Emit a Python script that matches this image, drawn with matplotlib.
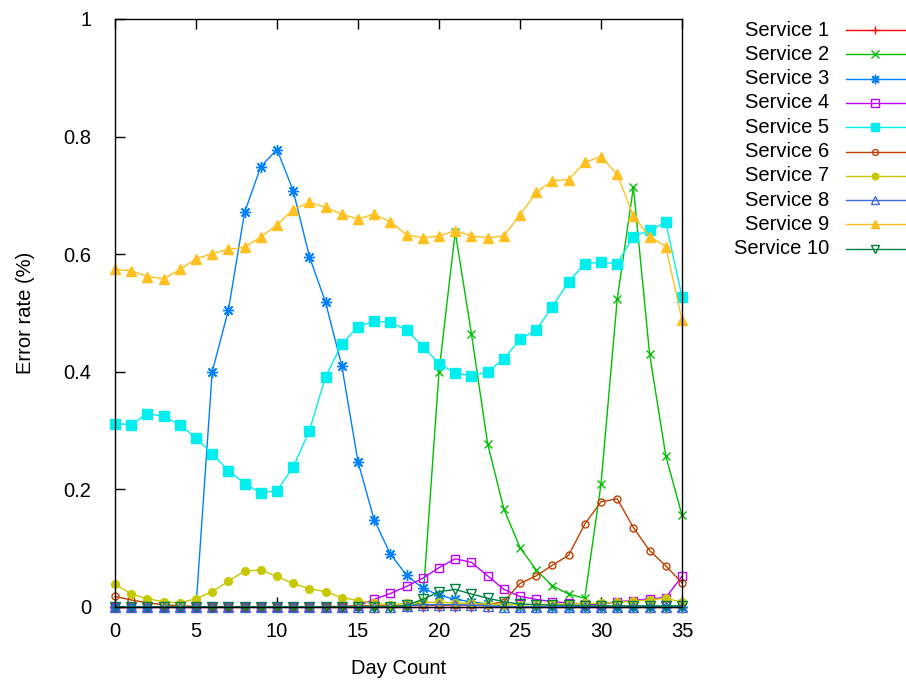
import matplotlib
matplotlib.use("Agg")
import matplotlib.pyplot as plt
from matplotlib.lines import Line2D

plt.rcParams['font.family'] = ['Liberation Sans', 'DejaVu Sans']

days = list(range(36))
names = ["Service %d" % i for i in range(1, 11)]

s1 = [0] * 36
s2 = [0] * 19 + [0.008, 0.400, 0.638, 0.465, 0.278, 0.167, 0.101, 0.063, 0.036, 0.022,
                 0.015, 0.209, 0.523, 0.714, 0.430, 0.257, 0.156]
s3 = [0] * 6 + [0.400, 0.505, 0.671, 0.749, 0.778, 0.708, 0.596, 0.518, 0.410, 0.247,
                0.148, 0.090, 0.054, 0.032, 0.020, 0.013, 0.009, 0.005, 0.002] + [0] * 11
s4 = [0] * 15 + [0.002, 0.013, 0.023, 0.035, 0.049, 0.067, 0.082, 0.076, 0.053, 0.030,
                 0.018, 0.013, 0.009, 0.007, 0.005, 0.004, 0.009, 0.011, 0.014, 0.016, 0.052]
s5 = [0.312, 0.310, 0.329, 0.324, 0.310, 0.287, 0.261, 0.232, 0.210, 0.194,
      0.198, 0.238, 0.300, 0.392, 0.447, 0.477, 0.486, 0.484, 0.471, 0.443,
      0.414, 0.398, 0.393, 0.400, 0.422, 0.455, 0.471, 0.511, 0.553, 0.584,
      0.586, 0.584, 0.630, 0.641, 0.654, 0.527]
s6 = [0.018, 0.012, 0.007, 0.004, 0.002, 0.001, 0, 0, 0, 0, 0, 0, 0,
      0.001, 0.001, 0.002, 0.002, 0.002, 0.002, 0.003, 0.003, 0.003, 0.003,
      0.004, 0.009, 0.040, 0.053, 0.071, 0.088, 0.141, 0.179, 0.184, 0.135,
      0.096, 0.070, 0.041]
s7 = [0.039, 0.022, 0.014, 0.009, 0.007, 0.014, 0.026, 0.044, 0.061, 0.063,
      0.052, 0.040, 0.031, 0.026, 0.016, 0.011, 0.006, 0.004, 0.006, 0.008,
      0.008, 0.007, 0.006, 0.005, 0.004, 0.004, 0.004, 0.005, 0.005, 0.006,
      0.006, 0.008, 0.010, 0.012, 0.015, 0.008]
s8 = [0] * 18 + [0.002, 0.004, 0.004, 0.004, 0.003, 0.002] + [0] * 12
s9 = [0.574, 0.572, 0.562, 0.558, 0.574, 0.592, 0.601, 0.608, 0.612, 0.629,
      0.650, 0.676, 0.688, 0.680, 0.668, 0.660, 0.668, 0.655, 0.633, 0.628,
      0.631, 0.640, 0.631, 0.628, 0.631, 0.667, 0.705, 0.725, 0.727, 0.756,
      0.766, 0.736, 0.665, 0.630, 0.613, 0.488]
s10 = [0] * 18 + [0.003, 0.013, 0.026, 0.030, 0.022, 0.015, 0.009, 0.005, 0.004, 0.003,
                  0.003, 0.002, 0.002, 0.002, 0.002, 0.002, 0.002, 0.002]
series = [s1, s2, s3, s4, s5, s6, s7, s8, s9, s10]

colors = ['#ff0000', '#00c000', '#0080ff', '#c000ff', '#00eeee',
          '#c04000', '#c8c800', '#4169e1', '#ffc020', '#008040']
markers = ['+', 'x', (8, 2, 0), 's', 's', 'o', 'o', '^', '^', 'v']
filled = [True, True, True, False, True, False, True, False, True, False]
sizes = [7, 6, 8, 6, 6.5, 5, 5.5, 7, 7.5, 7]

fig = plt.figure(figsize=(9.06, 6.81), dpi=100)
ax = fig.add_axes([115 / 906, 1 - 607 / 681, 567 / 906, 588 / 681])

def style(i):
    return dict(color=colors[i], lw=1.0, marker=markers[i], ms=sizes[i],
                mfc=colors[i] if filled[i] else 'none', mec=colors[i], mew=1.0)

for i, ys in enumerate(series):
    ax.plot(days, ys, clip_on=False, zorder=3 + i, **style(i))

ax.set_xlim(0, 35)
ax.set_ylim(0, 1)
ax.set_xticks(range(0, 36, 5))
ax.set_yticks([0, 0.2, 0.4, 0.6, 0.8, 1])
ax.set_yticklabels(["0", "0.2", "0.4", "0.6", "0.8", "1"])
ax.tick_params(axis='x', direction='in', length=7, width=1, top=True, pad=11, labelsize=14.5)
ax.tick_params(axis='y', direction='in', length=7, width=1, right=False, pad=17, labelsize=14.5)
for sp in ax.spines.values():
    sp.set_linewidth(1.0)
    sp.set_color('black')
    sp.set_zorder(20)

ax.set_xlabel("Day Count", fontsize=14.5)
ax.set_ylabel("Error rate (%)", fontsize=14.5)
ax.xaxis.set_label_coords(0.5, (607 - 659) / 588)
ax.yaxis.set_label_coords((35 - 115) / 567, 0.5)

# legend drawn at figure level, text right-aligned like gnuplot
for i, name in enumerate(names):
    y = 1 - (30 + 24.3 * i) / 681
    fig.text(829 / 906, y, name, ha='right', va='center', fontsize=14.5)
    st = style(i)
    fig.add_artist(Line2D([846 / 906, 905 / 906], [y, y], transform=fig.transFigure,
                          color=st['color'], lw=1.0))
    fig.add_artist(Line2D([875 / 906], [y], transform=fig.transFigure, ls='none',
                          marker=st['marker'], ms=st['ms'] * 0.85, mfc=st['mfc'],
                          mec=st['mec'], mew=1.0))

fig.savefig("out.png", dpi=100)
